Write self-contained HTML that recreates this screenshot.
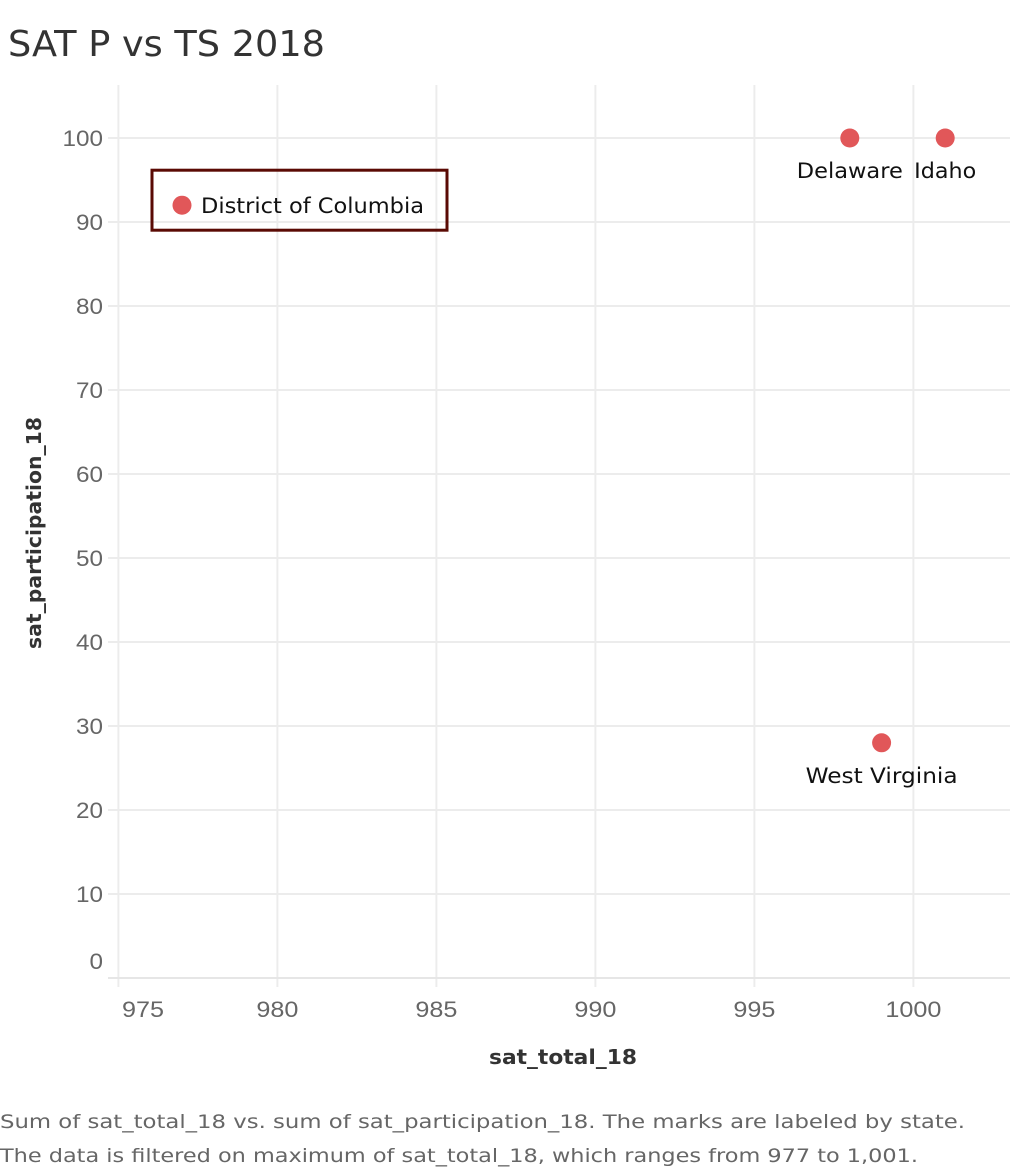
<!DOCTYPE html>
<html><head><meta charset="utf-8"><style>
body{margin:0;background:#fff;font-family:"DejaVu Sans",sans-serif;}
</style></head><body>
<svg width="1010" height="1172" xmlns="http://www.w3.org/2000/svg" font-family="DejaVu Sans, sans-serif">
<text x="8" y="56" font-size="36" fill="#333" textLength="317" lengthAdjust="spacingAndGlyphs">SAT P vs TS 2018</text>
<g id="grid"></g>
<g id="axes"></g>
<g id="marks"></g>
<text x="563" y="1064" font-size="20" font-weight="bold" fill="#333" text-anchor="middle" textLength="148" lengthAdjust="spacingAndGlyphs">sat_total_18</text>
<text transform="translate(41,533) rotate(-90)" font-size="20" font-weight="bold" fill="#333" text-anchor="middle" textLength="232" lengthAdjust="spacingAndGlyphs">sat_participation_18</text>
<text x="0" y="1128" font-size="19" fill="#666" textLength="965" lengthAdjust="spacingAndGlyphs">Sum of sat_total_18 vs. sum of sat_participation_18.  The marks are labeled by state.</text>
<text x="0" y="1162" font-size="19" fill="#666" textLength="918" lengthAdjust="spacingAndGlyphs">The data is filtered on maximum of sat_total_18, which ranges from 977 to 1,001.</text>
</svg>
<script>
const xTicks=[975,980,985,990,995,1000];
const yTicks=[0,10,20,30,40,50,60,70,80,90,100];
const states=["District of Columbia","Delaware","Idaho","West Virginia"];
const totals=[977,998,1001,999];
const participation=[92,100,100,28];
const labelW=[223,106,62,152];
const NS="http://www.w3.org/2000/svg";
const xs=v=>118.4+(v-975)*31.8;
const ys=v=>978-v*8.4;
function mk(t,a,p){const e=document.createElementNS(NS,t);for(const k in a)e.setAttribute(k,a[k]);p.appendChild(e);return e;}
const grid=document.getElementById('grid'),axes=document.getElementById('axes'),marks=document.getElementById('marks');
xTicks.forEach(v=>{
 const l=mk('line',{x1:xs(v),x2:xs(v),y1:85,y2:987,stroke:'#ececec','stroke-width':2},grid);
 
 
 const t=mk('text',{x:v===975?143:xs(v),y:1017,'font-size':22,fill:'#666','text-anchor':'middle','font-family':'Liberation Sans, sans-serif',textLength:String(v).length*14,lengthAdjust:'spacingAndGlyphs'},axes);
 t.textContent=v;
 
 
});
yTicks.forEach(v=>{
 if(v>0){const l=mk('line',{x1:108,x2:1010,y1:ys(v),y2:ys(v),stroke:'#ececec','stroke-width':2},grid);
 
 }
 const t=mk('text',{x:103,y:(v===0?961:ys(v))+8,'font-size':22,fill:'#666','text-anchor':'end','font-family':'Liberation Sans, sans-serif',textLength:String(v).length*13.5,lengthAdjust:'spacingAndGlyphs'},axes);
 t.textContent=v;
 
 
});
const base=mk('line',{x1:108,x2:1010,y1:978,y2:978,stroke:'#e6e6e6','stroke-width':2},axes);


states.forEach((s,i)=>{
 const cx=xs(totals[i]),cy=ys(participation[i]);
 const c=mk('circle',{cx:cx,cy:cy,r:9.5,fill:'#e15759'},marks);
 
 
 let t;
 if(i===0){
  const r=mk('rect',{x:cx-30,y:cy-35,width:295,height:60,fill:'none',stroke:'#5a0a04','stroke-width':3},marks);
  
  
  t=mk('text',{x:cx+19,y:cy+8,'font-size':21,fill:'#111',textLength:labelW[i],lengthAdjust:'spacingAndGlyphs'},marks);
 } else {
  t=mk('text',{x:cx,y:cy+40,'font-size':21,fill:'#111','text-anchor':'middle',textLength:labelW[i],lengthAdjust:'spacingAndGlyphs'},marks);
 }
 t.textContent=s;
 
 
});
</script>
</body></html>
